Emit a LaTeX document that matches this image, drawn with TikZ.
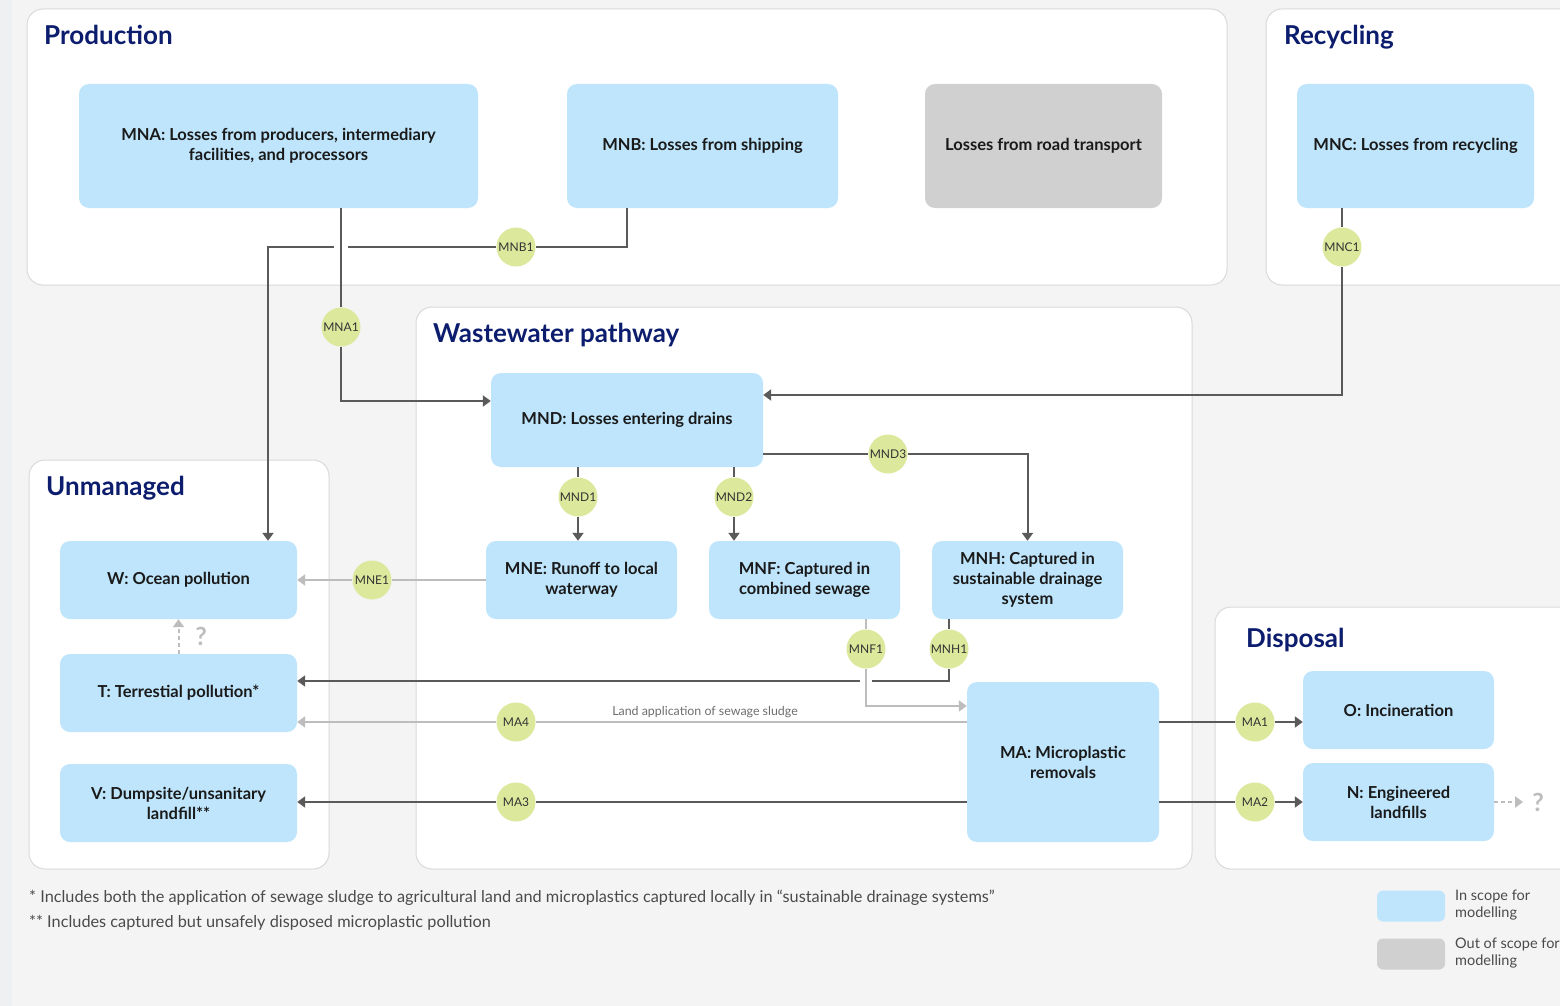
\documentclass[tikz,border=0pt]{standalone}
\usepackage{fontspec}
\setmainfont{Lato}
\usetikzlibrary{arrows.meta,positioning,calc}
\definecolor{pagebg}{HTML}{F4F4F4}
\definecolor{stripbg}{HTML}{EEF0F2}
\definecolor{panelgrey}{HTML}{DADADA}
\definecolor{navy}{HTML}{0D1D6E}
\definecolor{inscope}{HTML}{BEE5FC}
\definecolor{outscope}{HTML}{D0D0D0}
\definecolor{tagfill}{HTML}{DCE99C}
\definecolor{tagtext}{HTML}{333333}
\definecolor{boxtext}{HTML}{1A1A1A}
\definecolor{wiredark}{HTML}{5A5A5A}
\definecolor{wirefaint}{HTML}{BDBDBD}
\definecolor{notegrey}{HTML}{4A4A4A}
\tikzset{
  panel/.style={draw=panelgrey, line width=1pt, fill=white, rounded corners=16pt},
  title/.style={anchor=base west, inner sep=0pt, text=navy, font=\fontsize{26}{30}\selectfont\bfseries},
  box/.style={rounded corners=10pt, fill=inscope, align=center, inner sep=0pt, text=boxtext, font=\fontsize{16.5}{20}\selectfont\bfseries},
  greybox/.style={box, fill=outscope},
  tag/.style={circle, fill=tagfill, minimum size=39pt, inner sep=0pt, text=tagtext, font=\fontsize{12}{14}\selectfont},
  wire/.style={draw=wiredark, line width=2pt},
  line/.style={wire, -{Triangle[length=8pt,width=11pt]}},
  faintwire/.style={draw=wirefaint, line width=2pt},
  faintline/.style={faintwire, -{Triangle[length=8pt,width=11pt]}},
  maybe/.style={faintline, dash pattern=on 4pt off 3pt},
  qmark/.style={inner sep=1pt, text=wirefaint, font=\fontsize{25}{27}\selectfont\bfseries},
  sludge/.style={inner sep=1pt, text=notegrey!80, font=\fontsize{12.4}{14}\selectfont},
  note/.style={anchor=base west, inner sep=0pt, text=notegrey, font=\fontsize{16.3}{19}\selectfont},
  legend/.style={anchor=north west, align=left, inner sep=0pt, text=notegrey, font=\fontsize{14.5}{17}\selectfont}
}
\begin{document}
\begin{tikzpicture}[x=1pt, y=-1pt]
  \useasboundingbox (0,0) rectangle (1560,1006);
  \clip (0,0) rectangle (1560,1006);
  \fill[pagebg] (0,0) rectangle (1560,1006);
  \fill[stripbg] (0,0) rectangle (12,1006);

  \draw[panel] (27,9) rectangle (1227,285);
  \draw[panel] (1266,9) rectangle (1590,285);
  \draw[panel] (416,307) rectangle (1192,869);
  \draw[panel] (29,460) rectangle (329,869);
  \draw[panel] (1215,607) rectangle (1590,869);
  \node[title] (tprod) at (44,44.5) {Production};
  \node[title] (trec) at (1284,44.5) {Recycling};
  \node[title] (twaste) at (433,342.5) {Wastewater pathway};
  \node[title] (tunman) at (46,495.5) {Unmanaged};
  \node[title] (tdisp) at (1246,647.5) {Disposal};

  \node[box, minimum width=399pt, minimum height=124pt] (mna) at (278.5,146) {MNA: Losses from producers, intermediary\\facilities, and processors};
  \node[box, minimum width=271pt, minimum height=124pt] (mnb) at (702.5,146) {MNB: Losses from shipping};
  \node[greybox, minimum width=237pt, minimum height=124pt] (road) at (1043.5,146) {Losses from road transport};
  \node[box, minimum width=237pt, minimum height=124pt] (mnc) at (1415.5,146) {MNC: Losses from recycling};
  \node[box, minimum width=272pt, minimum height=94pt] (mnd) at (627,420) {MND: Losses entering drains};
  \node[box, minimum width=191pt, minimum height=78pt] (mne) at (581.5,580) {MNE: Runoff to local\\waterway};
  \node[box, minimum width=191pt, minimum height=78pt] (mnf) at (804.5,580) {MNF: Captured in\\combined sewage};
  \node[box, minimum width=191pt, minimum height=78pt] (mnh) at (1027.5,580) {MNH: Captured in\\sustainable drainage\\system};
  \node[box, minimum width=237pt, minimum height=78pt] (w) at (178.5,580) {W: Ocean pollution};
  \node[box, minimum width=237pt, minimum height=78pt] (t) at (178.5,693) {T: Terrestial pollution*};
  \node[box, minimum width=237pt, minimum height=78pt] (v) at (178.5,803) {V: Dumpsite/unsanitary\\landfill**};
  \node[box, minimum width=192pt, minimum height=160pt] (ma) at (1063,762) {MA: Microplastic\\removals};
  \node[box, minimum width=191pt, minimum height=78pt] (o) at (1398.5,710) {O: Incineration};
  \node[box, minimum width=191pt, minimum height=78pt] (n) at (1398.5,802) {N: Engineered\\landfills};

  \node[tag] (mnb1) at (516,247) {MNB1};
  \node[tag] (mna1) at (341,327) {MNA1};
  \node[tag] (mnc1) at (1342,247) {MNC1};
  \node[tag] (mnd1) at (578,497) {MND1};
  \node[tag] (mnd2) at (734,497) {MND2};
  \node[tag] (mnd3) at (888,454) {MND3};
  \node[tag] (mne1) at (372,580) {MNE1};
  \node[tag] (mnf1) at (866,649) {MNF1};
  \node[tag] (mnh1) at (949,649) {MNH1};
  \node[tag] (ma4) at (516,722) {MA4};
  \node[tag] (ma3) at (516,802) {MA3};
  \node[tag] (ma1) at (1255,722) {MA1};
  \node[tag] (ma2) at (1255,802) {MA2};
  \coordinate (hopB) at (341,247);
  \coordinate (bendB) at (268,247);
  \coordinate (hopF) at (866,681);

  \draw[wire] (mna.south -| mna1) -- (mna1);
  \draw[line] (mna1) |- ([yshift=19pt]mnd.west);
  \draw[wire] ([xshift=-75.5pt]mnb.south) |- (mnb1);
  \draw[wire] (mnb1) -- ([xshift=7pt]hopB);
  \draw[line] ([xshift=-7pt]hopB) -| (w.north -| bendB);
  \draw[wire] (mnc.south -| mnc1) -- (mnc1);
  \draw[line] (mnc1) |- ([yshift=25pt]mnd.east);
  \draw[wire] (mnd.south -| mnd1) -- (mnd1);
  \draw[line] (mnd1) -- (mne.north -| mnd1);
  \draw[wire] (mnd.south -| mnd2) -- (mnd2);
  \draw[line] (mnd2) -- (mnf.north -| mnd2);
  \draw[wire] (mnd.east |- mnd3) -- (mnd3);
  \draw[line] (mnd3) -| (mnh.north);
  \draw[faintwire] (mne) -- (mne1);
  \draw[faintline] (mne1) -- (w);
  \draw[faintwire] (mnf.south -| mnf1) -- (mnf1);
  \draw[faintline] (mnf1) |- ([yshift=56pt]ma.west);
  \draw[wire] (mnh.south -| mnh1) -- (mnh1);
  \draw[wire] (mnh1) |- ([xshift=6pt]hopF);
  \draw[line] ([xshift=-6pt]hopF) -- (t.east |- hopF);
  \draw[faintwire] (ma.west |- ma4) -- (ma4);
  \draw[faintline] (ma4) -- (t.east |- ma4);
  \node[sludge] (sludge) at (705,712) {Land application of sewage sludge};
  \draw[wire] (ma.west |- ma3) -- (ma3);
  \draw[line] (ma3) -- (v.east |- ma3);
  \draw[wire] (ma.east |- ma1) -- (ma1);
  \draw[line] (ma1) -- (o.west |- ma1);
  \draw[wire] (ma.east |- ma2) -- (ma2);
  \draw[line] (ma2) -- (n.west |- ma2);
  \node[qmark] (q1) at (201,636) {?};
  \draw[maybe] (t) -- (w);
  \node[qmark] (q2) at (1538,802) {?};
  \draw[maybe] (n.east) -- ([xshift=-8pt]q2.west);

  \node[note] (note1) at (29,902) {* Includes both the application of sewage sludge to agricultural land and microplastics captured locally in ``sustainable drainage systems''};
  \node[note] (note2) at (29,927) {** Includes captured but unsafely disposed microplastic pollution};
  \node[box, minimum width=68pt, minimum height=31pt, rounded corners=6pt] (keyin) at (1411,906) {};
  \node[greybox, minimum width=68pt, minimum height=31pt, rounded corners=6pt] (keyout) at (1411,954) {};
  \node[legend] (keyintext) at (1455,890) {In scope for\\modelling};
  \node[legend] (keyouttext) at (1455,938) {Out of scope for\\modelling};
\end{tikzpicture}
\end{document}
